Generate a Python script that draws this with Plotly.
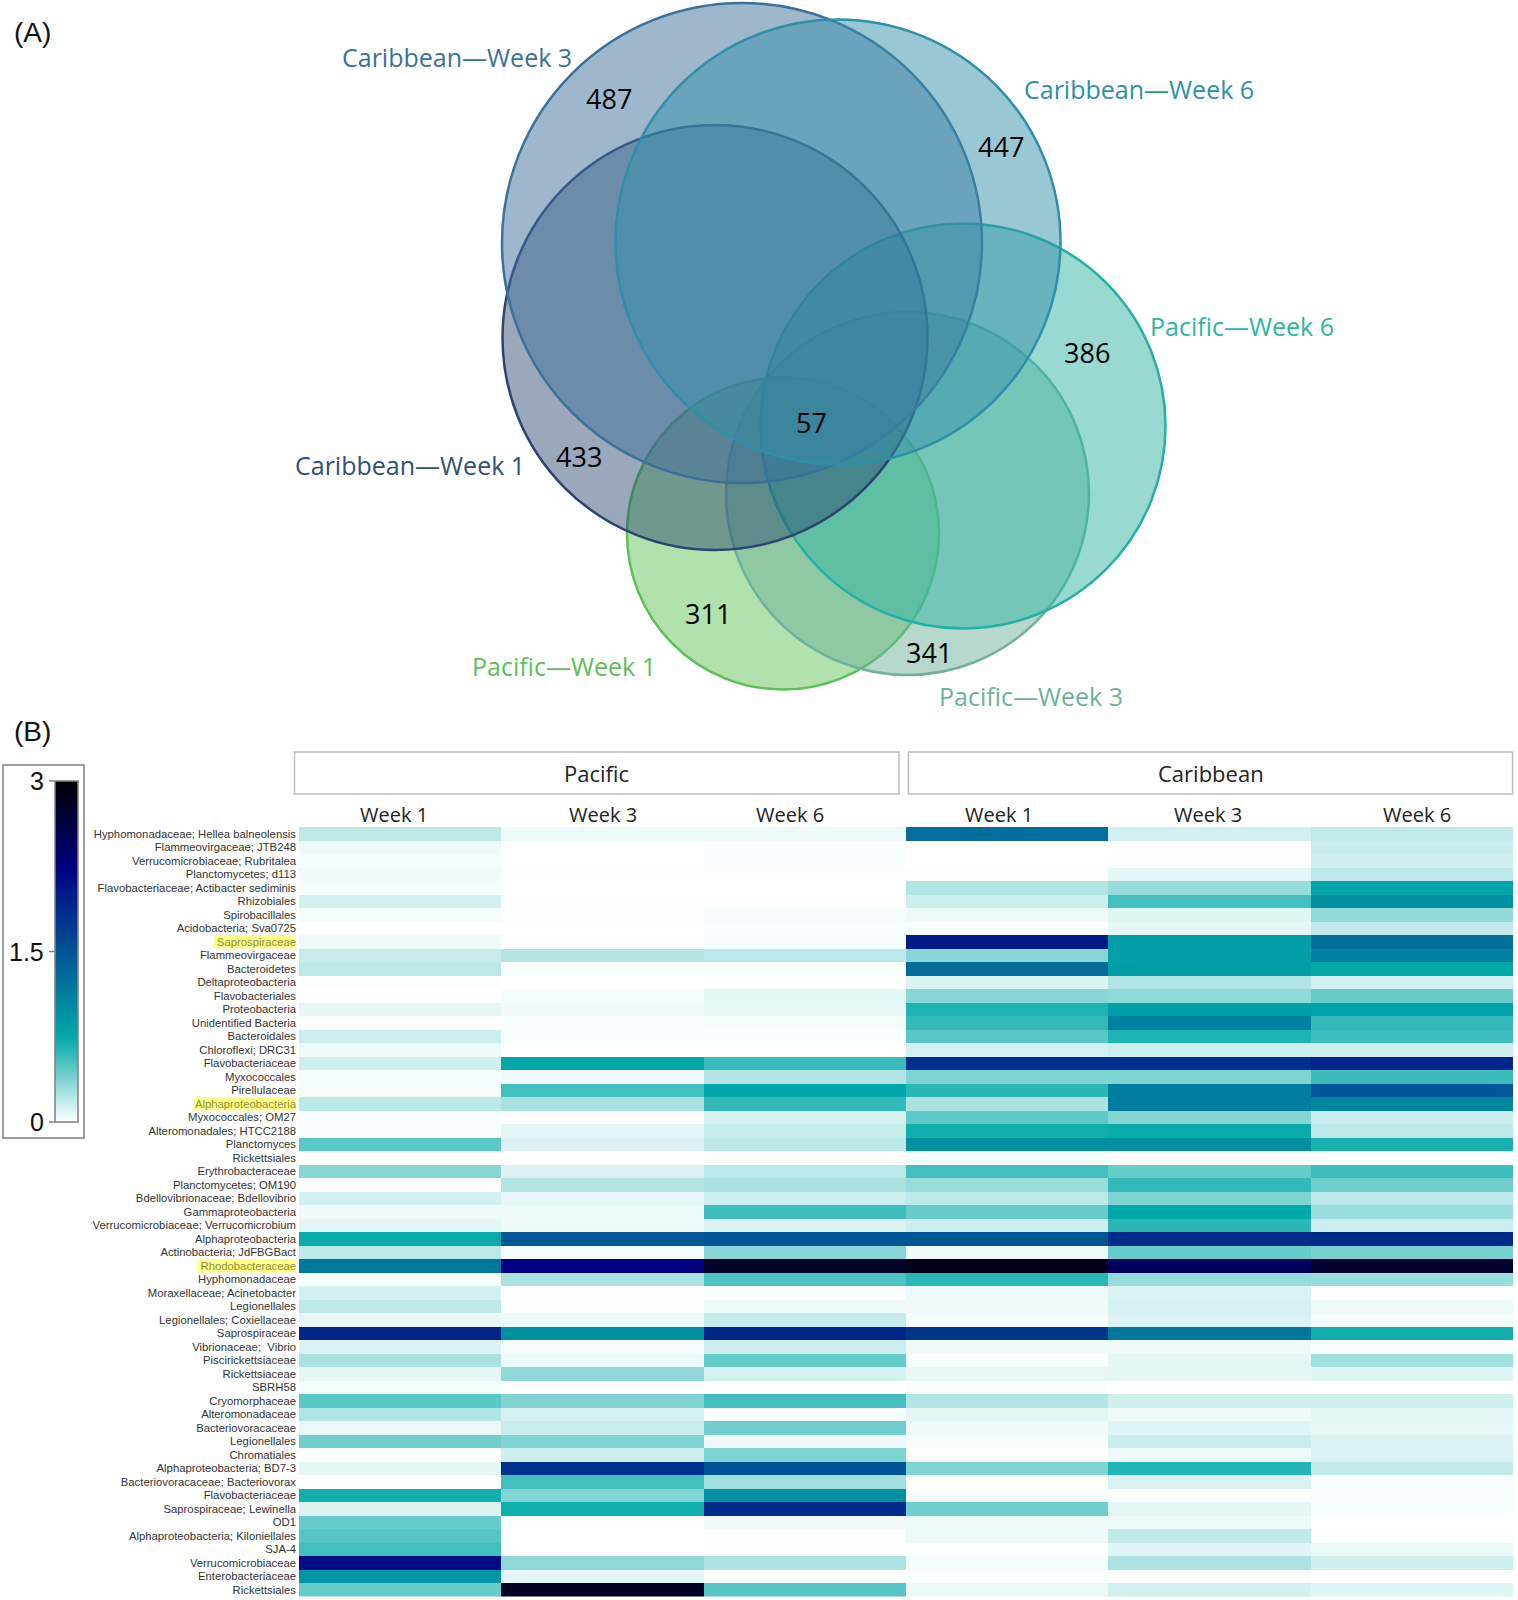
import plotly.graph_objects as go

taxa = ["Hyphomonadaceae; Hellea balneolensis","Flammeovirgaceae; JTB248","Verrucomicrobiaceae; Rubritalea","Planctomycetes; d113",
"Flavobacteriaceae; Actibacter sediminis","Rhizobiales","Spirobacillales","Acidobacteria; Sva0725","Saprospiraceae","Flammeovirgaceae",
"Bacteroidetes","Deltaproteobacteria","Flavobacteriales","Proteobacteria","Unidentified Bacteria","Bacteroidales","Chloroflexi; DRC31",
"Flavobacteriaceae","Myxococcales","Pirellulaceae","Alphaproteobacteria","Myxococcales; OM27","Alteromonadales; HTCC2188","Planctomyces",
"Rickettsiales","Erythrobacteraceae","Planctomycetes; OM190","Bdellovibrionaceae; Bdellovibrio","Gammaproteobacteria",
"Verrucomicrobiaceae; Verrucomicrobium","Alphaproteobacteria","Actinobacteria; JdFBGBact","Rhodobacteraceae","Hyphomonadaceae",
"Moraxellaceae; Acinetobacter","Legionellales","Legionellales; Coxiellaceae","Saprospiraceae","Vibrionaceae;  Vibrio","Piscirickettsiaceae",
"Rickettsiaceae","SBRH58","Cryomorphaceae","Alteromonadaceae","Bacteriovoracaceae","Legionellales","Chromatiales","Alphaproteobacteria; BD7-3",
"Bacteriovoracaceae; Bacteriovorax","Flavobacteriaceae","Saprospiraceae; Lewinella","OD1","Alphaproteobacteria; Kiloniellales","SJA-4",
"Verrucomicrobiaceae","Enterobacteriaceae","Rickettsiales"]

highlighted = {8: 214, 20: 194, 32: 198}

pacific_w1 = [.19,.04,.03,.04,.03,.13,.03,0,.05,.17,.2,.01,0,.08,.01,.15,.05,.14,.03,.03,.2,.02,.02,.48,0,.35,.01,.13,.04,.08,.72,.2,1.18,.02,.13,.19,.07,1.91,.1,.25,.08,.03,.48,.23,.06,.42,0,.08,.01,.7,.1,.45,.5,.55,2.14,.92,.45]
pacific_w3 = [.05,0,0,.01,0,.01,.01,0,.01,.22,.02,0,.03,.04,.02,.02,0,.76,.04,.55,.25,0,.08,.1,0,.1,.22,.07,.05,.04,1.49,.03,2.25,.25,.01,.01,.05,.96,.03,.05,.32,0,.37,.12,.16,.37,.15,1.82,.55,.37,.7,.01,0,0,.33,.07,2.8]
pacific_w6 = [.05,.02,.02,.01,0,.01,.03,.02,.03,.2,.02,0,.08,.07,.03,.02,0,.58,.22,.76,.6,.12,.17,.2,.01,.2,.25,.15,.57,.1,1.49,.35,2.77,.52,0,.05,.17,1.91,.15,.45,.12,0,.55,.02,.42,.04,.38,1.5,.28,.96,1.87,.04,.01,.01,.24,.005,.5]
caribbean_w1 = [1.28,0,0,.01,.22,.15,.05,.02,2.02,.35,1.28,.1,.35,.66,.6,.48,.12,1.82,.38,.62,.25,.47,.7,.96,.03,.55,.3,.2,.45,.15,1.49,.05,2.85,.62,.05,.04,.03,1.76,.05,.02,.07,.02,.22,.08,.04,.03,0,.37,.01,.03,.42,.05,.05,.01,.03,.02,.06]
caribbean_w3 = [.13,0,.01,.08,.3,.55,.09,.07,.82,.82,.85,.22,.33,.82,1.1,.66,.15,1.82,.38,1.13,1.13,.36,.72,.96,.01,.45,.6,.38,.75,.63,1.87,.45,2.47,.31,.11,.12,.1,1.18,.04,.08,.08,0,.14,.04,.09,.16,.05,.65,.11,.01,.08,.05,.18,.09,.24,.01,.13]
caribbean_w6 = [.18,.16,.14,.2,.78,.96,.32,.18,1.28,1.1,.75,.13,.45,.8,.6,.57,.14,1.93,.58,1.49,1.05,.16,.2,.68,.01,.57,.42,.2,.3,.15,1.87,.4,2.74,.3,.01,.05,.03,.7,.02,.27,.09,0,.14,.08,.07,.1,.11,.18,.02,.02,.02,0,.01,.06,.14,0,.09]

columns = ["Pacific Week 1","Pacific Week 3","Pacific Week 6","Caribbean Week 1","Caribbean Week 3","Caribbean Week 6"]
week_labels = ["Week 1","Week 3","Week 6","Week 1","Week 3","Week 6"]
site_labels = ["Pacific","Caribbean"]
colorbar_ticks = [0, 1.5, 3]

venn_sets = ["Caribbean\u2014Week 3","Caribbean\u2014Week 6","Caribbean\u2014Week 1","Pacific\u2014Week 6","Pacific\u2014Week 3","Pacific\u2014Week 1"]
venn_unique = [487, 447, 433, 386, 341, 311]
venn_shared = [57]

# ---- geometry and styles (page pixels) ----
W, H = 1518, 1600
circles = [(742,243,240),(838,242,222.5),(715,337.5,212.5),(963,426,202.5),(907.5,493.5,181.5),(783,533.5,156)]
circle_line = ["#3a7099","#2f8fa8","#2b4570","#25b0a5","#6fb09f","#5cc05a"]
circle_fill = ["rgba(64,112,155,0.50)","rgba(54,143,170,0.50)","rgba(38,66,110,0.46)","rgba(50,180,165,0.50)","rgba(110,178,155,0.50)","rgba(100,195,90,0.50)"]
draw_order = [5, 4, 3, 2, 0, 1]   # Pacific first, Caribbean on top
label_pos = [(457,57),(1139,89),(410,465),(1242,326),(1031,696),(564,666)]
label_col = ["#3b7099","#2f8fa8","#2f5078","#2fb5a5","#6fb09f","#5cc05a"]
count_pos = [(608.6,99),(1001,147),(579,457.5),(1087,353),(928.6,653),(708,614)]
shared_pos = [(811,423)]
heat_l, heat_r, heat_t, heat_b = 299, 1513, 827, 1596.5
site_boxes = [(294.5,899),(908.5,1512.6)]
week_x = [394,603,790,999,1208,1417]
FONT = "Open Sans, sans-serif"
SANS = "Liberation Sans, Arial, sans-serif"

fig = go.Figure()

# invisible anchor trace so the page-pixel axes exist
fig.add_trace(go.Scatter(x=[0, W], y=[0, H], mode="markers", marker=dict(opacity=0),
                         hoverinfo="skip", showlegend=False, xaxis="x", yaxis="y"))

ticktext = []
for i, t in enumerate(taxa):
    ticktext.append(f'<span style="color:#8f8f35">{t}</span>' if i in highlighted else t)

z = [list(row) for row in zip(pacific_w1, pacific_w3, pacific_w6, caribbean_w1, caribbean_w3, caribbean_w6)]
cb_top, cb_bot = 781, 1122
fig.add_trace(go.Heatmap(
    z=z, x=list(range(6)), y=list(range(len(taxa))), zmin=0, zmax=3, xaxis="x2", yaxis="y2",
    colorscale=[[0,"#ffffff"],[0.25,"#00a8a8"],[0.75,"#000080"],[1,"#000000"]],
    customdata=[[c for c in columns] for _ in taxa],
    hovertemplate="%{customdata}<br>%{z}<extra></extra>",
    colorbar=dict(
        x=54.5/W, xanchor="left", xref="paper", thickness=23, thicknessmode="pixels",
        y=1-cb_bot/H, yanchor="bottom", yref="paper", len=(cb_bot-cb_top)/H, lenmode="fraction",
        xpad=0, ypad=0, outlinecolor="#808080", outlinewidth=1.5, borderwidth=0,
        ticks="", showticklabels=False)))

shapes = []
for i in draw_order:
    cx, cy, r = circles[i]
    shapes.append(dict(type="circle", xref="x", yref="y", x0=cx-r, x1=cx+r, y0=cy-r, y1=cy+r,
                       line=dict(color=circle_line[i], width=2.5), fillcolor=circle_fill[i], layer="above"))
for i, x0 in highlighted.items():
    shapes.append(dict(type="rect", xref="x", yref="y2", x0=x0, x1=296, y0=i-0.5, y1=i+0.5,
                       fillcolor="#ffff8a", line=dict(width=0), layer="below"))
for x0, x1 in site_boxes:
    shapes.append(dict(type="rect", xref="x", yref="y", x0=x0, x1=x1, y0=752, y1=794,
                       line=dict(color="#bdbdbd", width=1.5), fillcolor="rgba(0,0,0,0)", layer="below"))
shapes.append(dict(type="rect", xref="x", yref="y", x0=3, x1=84, y0=765, y1=1138,
                   line=dict(color="#808080", width=1.5), fillcolor="rgba(0,0,0,0)", layer="below"))

ann = []
def add_text(x, y, text, size, color, family=FONT, anchor="center"):
    ann.append(dict(x=x, y=y, xref="x", yref="y", text=text, showarrow=False,
                    font=dict(family=family, size=size, color=color),
                    xanchor=anchor, yanchor="middle"))
for name, (x, y), c in zip(venn_sets, label_pos, label_col):
    add_text(x, y, name, 25, c)
for v, (x, y) in zip(venn_unique + venn_shared, count_pos + shared_pos):
    add_text(x, y - 1, str(v), 27, "#000000")
add_text(32, 32, "(A)", 28, "#111111", SANS)
add_text(32, 731, "(B)", 28, "#111111", SANS)
for s, (x0, x1) in zip(site_labels, site_boxes):
    add_text((x0+x1)/2, 773, s, 22, "#222222")
for w, x in zip(week_labels, week_x):
    add_text(x, 814, w, 20, "#222222")
for v in colorbar_ticks:
    y = cb_bot - (cb_bot - cb_top) * v / 3
    add_text(46, y, str(v), 25, "#111111", SANS, anchor="right")
    shapes.append(dict(type="line", xref="x", yref="y", x0=49, x1=54.5, y0=y, y1=y,
                       line=dict(color="#808080", width=1.5), layer="below"))

fig.update_layout(
    width=W, height=H, margin=dict(l=0, r=0, t=0, b=0), autosize=False,
    paper_bgcolor="white", plot_bgcolor="rgba(0,0,0,0)", showlegend=False,
    shapes=shapes, annotations=ann,
    xaxis=dict(domain=[0,1], range=[0,W], visible=False, fixedrange=True),
    yaxis=dict(domain=[0,1], range=[H,0], visible=False, fixedrange=True),
    xaxis2=dict(domain=[heat_l/W, heat_r/W], range=[-0.5,5.5], visible=False, anchor="y2"),
    yaxis2=dict(domain=[1-heat_b/H, 1-heat_t/H], range=[len(taxa)-0.5,-0.5], anchor="x2",
                tickmode="array", tickvals=list(range(len(taxa))), ticktext=ticktext,
                ticks="", showline=False, showgrid=False, zeroline=False,
                ticklabelstandoff=2,
                tickfont=dict(family=SANS, size=11.3, color="#333333")),
)

fig.write_html("out.html", config={"displayModeBar": False},
               post_script="document.body.style.margin='0';document.body.style.overflow='hidden';")
